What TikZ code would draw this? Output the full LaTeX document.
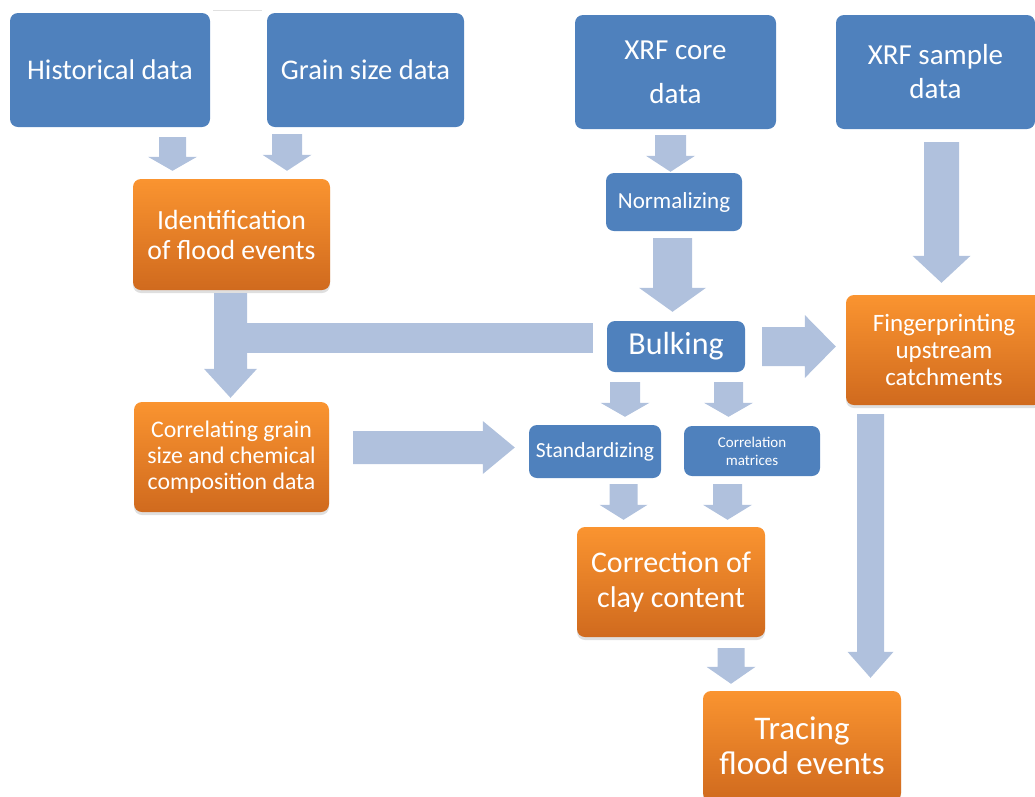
\documentclass[tikz,border=0pt]{standalone}
\usepackage{fontspec}
\setmainfont{Carlito}
\usetikzlibrary{calc,shadows}
\definecolor{BoxBlue}{HTML}{4F81BD}
\definecolor{OrangeTop}{HTML}{FA9430}
\definecolor{OrangeBottom}{HTML}{D06A1E}
\definecolor{FlowBlue}{HTML}{B0C1DD}
\newcommand\fsz[2]{\fontsize{#1}{#2}\selectfont}
% block arrow: from, to, half shaft, half head, head length
\newcommand\flowarrow[5]{%
  \path (#1) coordinate (fa-a) (#2) coordinate (fa-b);
  \path ($(fa-b)!#5!(fa-a)$) coordinate (fa-c);
  \fill[flowfill] ($(fa-a)!#3!90:(fa-b)$) -- ($(fa-c)!#3!90:(fa-b)$) -- ($(fa-c)!#4!90:(fa-b)$) -- (fa-b)
    -- ($(fa-c)!#4!-90:(fa-b)$) -- ($(fa-c)!#3!-90:(fa-b)$) -- ($(fa-a)!#3!-90:(fa-b)$) -- cycle;}

\begin{document}
\begin{tikzpicture}[x=1pt,y=-1pt,
  boxsize/.style 2 args={minimum width=#1pt,minimum height=#2pt},
  bluebox/.style={fill=BoxBlue,rounded corners=8pt,inner sep=0pt,align=center,text=white},
  orangebox/.style={top color=OrangeTop,bottom color=OrangeBottom,rounded corners=8pt,inner sep=0pt,
    align=center,text=white,drop shadow={shadow xshift=0pt,shadow yshift=-3pt,opacity=.25}},
  flowfill/.style={fill=FlowBlue}
]
\useasboundingbox (0,0) rectangle (1035,796);
\clip (0,0) rectangle (1035,796);
\draw[black!12,line width=1pt] (213,10) -- (262,10);

% data sources
\node[bluebox,boxsize={200}{114},font=\fsz{28.5}{34}] (hist) at (110,70) {Historical data};
\node[bluebox,boxsize={197}{114},font=\fsz{28.5}{34}] (grain) at (365.5,70) {Grain size data};
\node[bluebox,boxsize={201}{114},font=\fsz{29}{44}] (xrfcore) at (675.5,72) {XRF core\\data};
\node[bluebox,boxsize={199}{114},font=\fsz{29}{34}] (xrfsample) at (935.5,72) {XRF sample\\data};

% processing steps
\node[orangebox,boxsize={197}{111},font=\fsz{27.7}{30}] (ident) at (231.5,234.5) {Identification\\of flood events};
\node[bluebox,boxsize={136}{58},font=\fsz{23}{26}] (norm) at (674,202) {Normalizing};
\node[bluebox,boxsize={138}{51},font=\fsz{32}{36}] (bulk) at (676,346.5) {Bulking};
\node[orangebox,boxsize={196}{110},font=\fsz{25}{27}] (finger) at (944,350) {Fingerprinting\\upstream\\catchments};
\node[orangebox,boxsize={195}{110},font=\fsz{23.8}{26}] (corrgrain) at (231.5,457) {Correlating grain\\size and chemical\\composition data};
\node[bluebox,boxsize={132}{53},font=\fsz{21.5}{24}] (std) at (595,451.5) {Standardizing};
\node[bluebox,boxsize={136}{50},font=\fsz{15}{18}] (cormat) at (752,451) {Correlation\\matrices};
\node[orangebox,boxsize={188}{110},font=\fsz{30}{35}] (corr) at (671,582) {Correction of\\clay content};
\node[orangebox,boxsize={198}{110},font=\fsz{33}{35}] (trace) at (802,746) {Tracing\\flood events};

% flows
\flowarrow{$(hist.south)+(62.5,10)$}{$(ident.north)+(-59,-8)$}{13.5pt}{24.5pt}{14pt}
\flowarrow{$(grain.south)+(-78.5,7)$}{$(ident.north)+(55.5,-8)$}{15pt}{24.5pt}{16pt}
\flowarrow{$(xrfcore.south)+(-5,6)$}{$(norm.north)+(-3.5,-1)$}{15.5pt}{24.5pt}{16pt}
\flowarrow{$(norm.south)+(-1.5,7)$}{$(bulk.north)+(-3.5,-9)$}{19.5pt}{33.5pt}{24pt}
\flowarrow{$(xrfsample.south)+(6,13)$}{$(finger.north)+(-2.5,-12)$}{17.5pt}{29pt}{27pt}
\flowarrow{$(bulk.east)+(17,0)$}{$(finger.west)+(-10,-3.5)$}{19.5pt}{31.5pt}{31pt}
\flowarrow{$(bulk.south)+(-51,10)$}{$(std.north)+(30,-8)$}{15pt}{24.5pt}{14pt}
\flowarrow{$(bulk.south)+(52.5,10)$}{$(cormat.north)+(-23.5,-9)$}{14.5pt}{24.5pt}{14pt}
\fill[flowfill] ($(bulk.north west)+(-14,2)$) rectangle ($(ident.south)+(-1,63)$);
\flowarrow{$(ident.south)+(-1,3)$}{$(corrgrain.north)+(-1,-4)$}{16.5pt}{26.5pt}{29pt}
\flowarrow{$(corrgrain.east)+(24,-9.5)$}{$(std.west)+(-14,-4)$}{16.5pt}{26.5pt}{32pt}
\flowarrow{$(std.south)+(28.5,6)$}{$(corr.north)+(-47.5,-7)$}{14pt}{24pt}{15pt}
\flowarrow{$(cormat.south)+(-24.5,8)$}{$(corr.north)+(56.5,-7)$}{14.5pt}{24.5pt}{15pt}
\flowarrow{$(corr.south)+(60,11)$}{$(trace.north)+(-71,-7)$}{13.5pt}{24.5pt}{17pt}
\flowarrow{$(finger.south)+(-73.5,9)$}{$(trace.north)+(68.5,-13)$}{13.5pt}{23pt}{26pt}
\end{tikzpicture}
\end{document}
